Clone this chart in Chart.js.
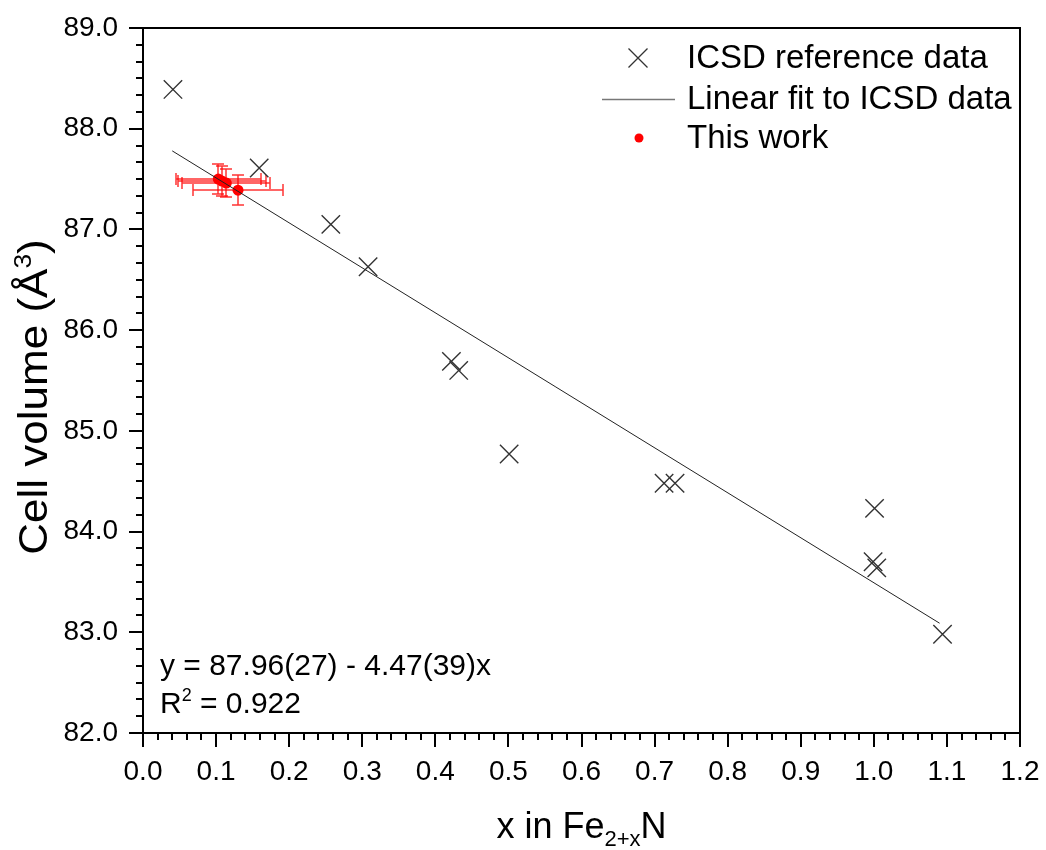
<!DOCTYPE html>
<html><head><meta charset="utf-8">
<script src="https://cdn.jsdelivr.net/npm/chart.js@4.4.0/dist/chart.umd.min.js"></script>
<style>html,body{margin:0;padding:0;background:#fff;}#wrap{width:1046px;height:850px;}</style>
</head><body><div id="wrap"><canvas id="c" width="1046" height="850"></canvas></div>
<script>
// ---- data ----
const icsdX = [0.041, 0.159, 0.257, 0.308, 0.422, 0.432, 0.501, 0.713, 0.728, 1.001, 0.999, 1.004, 1.094];
const icsdY = [88.39, 87.61, 87.05, 86.63, 85.69, 85.60, 84.77, 84.48, 84.48, 84.23, 83.70, 83.64, 82.98];
const fitX = [0.04, 1.09];
const fitY = [87.78, 83.09];
const workX = [0.103, 0.108, 0.114, 0.130];
const workY = [87.50, 87.48, 87.46, 87.39];
const workXErr = [0.058, 0.060, 0.060, 0.062];
const workYErr = [0.15, 0.15, 0.14, 0.15];
const seriesLabels = ['ICSD reference data', 'Linear fit to ICSD data', 'This work'];
const eqLine = 'y = 87.96(27) - 4.47(39)x';
const r2Text = ' = 0.922';
const xTitleParts = ['x in Fe', '2+x', 'N'];
const yTitleParts = ['Cell volume (\u00C5', '3', ')'];
const xRange = [0, 1.2], yRange = [82, 89];
const xMajor = 0.1, xMinorPerMajor = 5, yMajor = 1, yMinorPerMajor = 6;

const FONT = '"Liberation Sans", Arial, sans-serif';

function measureRich(ctx, parts) {
  let w = 0;
  parts.forEach(p => { ctx.font = p.size + 'px ' + FONT; p.w = ctx.measureText(p.t).width; w += p.w; });
  return w;
}
function drawRich(ctx, parts, x, y, align) {
  const w = measureRich(ctx, parts);
  let cx = align === 'center' ? x - w / 2 : x;
  parts.forEach(p => { ctx.font = p.size + 'px ' + FONT; ctx.fillText(p.t, cx, y + (p.dy || 0)); cx += p.w; });
}

const errPlugin = {
  id: 'errbars',
  beforeDatasetsDraw(chart) {
    const {ctx, scales: {x, y}} = chart;
    ctx.save();
    ctx.strokeStyle = 'rgba(255,0,0,0.8)';
    ctx.lineWidth = 1.5;
    const cap = 6;
    workX.forEach((vx, i) => {
      const px = Math.round(x.getPixelForValue(vx)), py = Math.round(y.getPixelForValue(workY[i]));
      const x0 = Math.round(x.getPixelForValue(vx - workXErr[i])), x1 = Math.round(x.getPixelForValue(vx + workXErr[i]));
      const y0 = Math.round(y.getPixelForValue(workY[i] + workYErr[i])), y1 = Math.round(y.getPixelForValue(workY[i] - workYErr[i]));
      ctx.beginPath();
      ctx.moveTo(x0, py); ctx.lineTo(x1, py);
      ctx.moveTo(x0, py - cap); ctx.lineTo(x0, py + cap);
      ctx.moveTo(x1, py - cap); ctx.lineTo(x1, py + cap);
      ctx.moveTo(px, y0); ctx.lineTo(px, y1);
      ctx.moveTo(px - cap, y0); ctx.lineTo(px + cap, y0);
      ctx.moveTo(px - cap, y1); ctx.lineTo(px + cap, y1);
      ctx.stroke();
    });
    ctx.restore();
  }
};

const framePlugin = {
  id: 'frame',
  afterDraw(chart) {
    const {ctx, chartArea: a, scales: {x, y}} = chart;
    ctx.save();
    ctx.strokeStyle = '#000';
    ctx.lineWidth = 2;
    ctx.strokeRect(a.left, a.top, a.right - a.left, a.bottom - a.top);
    ctx.beginPath();
    const nx = Math.round((xRange[1] - xRange[0]) / xMajor * xMinorPerMajor);
    for (let i = 0; i <= nx; i++) {
      const v = xRange[0] + i * xMajor / xMinorPerMajor;
      const px = Math.round(x.getPixelForValue(v));
      const len = (i % xMinorPerMajor === 0) ? 14 : 7;
      ctx.moveTo(px, a.bottom); ctx.lineTo(px, a.bottom + len);
    }
    const ny = Math.round((yRange[1] - yRange[0]) / yMajor * yMinorPerMajor);
    for (let i = 0; i <= ny; i++) {
      const v = yRange[0] + i * yMajor / yMinorPerMajor;
      const py = Math.round(y.getPixelForValue(v));
      const len = (i % yMinorPerMajor === 0) ? 14 : 7;
      ctx.moveTo(a.left, py); ctx.lineTo(a.left - len, py);
    }
    ctx.stroke();

    // axis titles
    ctx.fillStyle = '#000';
    ctx.textBaseline = 'alphabetic';
    drawRich(ctx, [{t: xTitleParts[0], size: 36}, {t: xTitleParts[1], size: 22, dy: 8}, {t: xTitleParts[2], size: 36}], (a.left + a.right) / 2, 838, 'center');
    ctx.save();
    ctx.translate(47, 397);
    ctx.rotate(-Math.PI / 2);
    ctx.scale(1.1, 1);
    drawRich(ctx, [{t: yTitleParts[0], size: 40}, {t: yTitleParts[1], size: 24, dy: -16}, {t: yTitleParts[2], size: 40}], 0, 0, 'center');
    ctx.restore();

    // fit annotation
    drawRich(ctx, [{t: eqLine, size: 30}], 160, 675, 'left');
    drawRich(ctx, [{t: 'R', size: 30}, {t: '2', size: 18, dy: -12}, {t: r2Text, size: 30}], 160, 713, 'left');

    // legend
    const mx = 638, tx = 687, rows = [58, 99, 138];
    ctx.textBaseline = 'middle';
    ctx.font = '33px ' + FONT;
    ctx.fillText(seriesLabels[0], tx, rows[0] + 1);
    ctx.fillText(seriesLabels[1], tx, rows[1] + 1);
    ctx.fillText(seriesLabels[2], tx, rows[2] + 1);
    ctx.strokeStyle = '#333'; ctx.lineWidth = 1.3;
    ctx.beginPath();
    ctx.moveTo(mx - 9.5, rows[0] - 9.5); ctx.lineTo(mx + 9.5, rows[0] + 9.5);
    ctx.moveTo(mx + 9.5, rows[0] - 9.5); ctx.lineTo(mx - 9.5, rows[0] + 9.5);
    ctx.stroke();
    ctx.strokeStyle = '#777'; ctx.lineWidth = 1.5;
    ctx.beginPath(); ctx.moveTo(602, rows[1] + 0.5); ctx.lineTo(675, rows[1] + 0.5); ctx.stroke();
    ctx.fillStyle = '#ff0000';
    ctx.beginPath(); ctx.arc(mx + 1, rows[2], 4.5, 0, Math.PI * 2); ctx.fill();
    ctx.restore();
  }
};

const toPts = (xs, ys) => xs.map((v, i) => ({x: v, y: ys[i]}));

new Chart(document.getElementById('c'), {
  type: 'scatter',
  data: {
    datasets: [
      {label: seriesLabels[1], data: toPts(fitX, fitY), showLine: true, borderColor: '#222', borderWidth: 1, pointRadius: 0, fill: false, order: 0},
      {label: seriesLabels[0], data: toPts(icsdX, icsdY), pointStyle: 'crossRot', pointRadius: 13, borderColor: '#333', borderWidth: 1.4, backgroundColor: 'rgba(0,0,0,0)', order: 1},
      {label: seriesLabels[2], data: toPts(workX, workY), pointStyle: 'circle', pointRadius: 5.5, backgroundColor: '#ff0000', borderColor: '#ff0000', borderWidth: 0, order: 2}
    ]
  },
  options: {
    responsive: false,
    animation: false,
    layout: {padding: {top: 28, right: 26, left: 0, bottom: 0}},
    plugins: {legend: {display: false}, tooltip: {enabled: false}},
    scales: {
      x: {
        type: 'linear', min: xRange[0], max: xRange[1],
        grid: {display: false, drawTicks: false}, border: {display: false},
        ticks: {stepSize: xMajor, padding: 22, color: '#000', font: {family: FONT, size: 28}, maxRotation: 0, autoSkip: false,
          callback: v => Number(v).toFixed(1)},
        afterFit(s) { s.height = 117; s.paddingLeft = 0; s.paddingRight = 0; }
      },
      y: {
        type: 'linear', min: yRange[0], max: yRange[1],
        grid: {display: false, drawTicks: false}, border: {display: false},
        ticks: {stepSize: yMajor, padding: 25, color: '#000', font: {family: FONT, size: 28},
          callback: v => Number(v).toFixed(1)},
        afterFit(s) { s.width = 143; s.paddingTop = 0; s.paddingBottom = 0; }
      }
    }
  },
  plugins: [errPlugin, framePlugin]
});
</script></body></html>
